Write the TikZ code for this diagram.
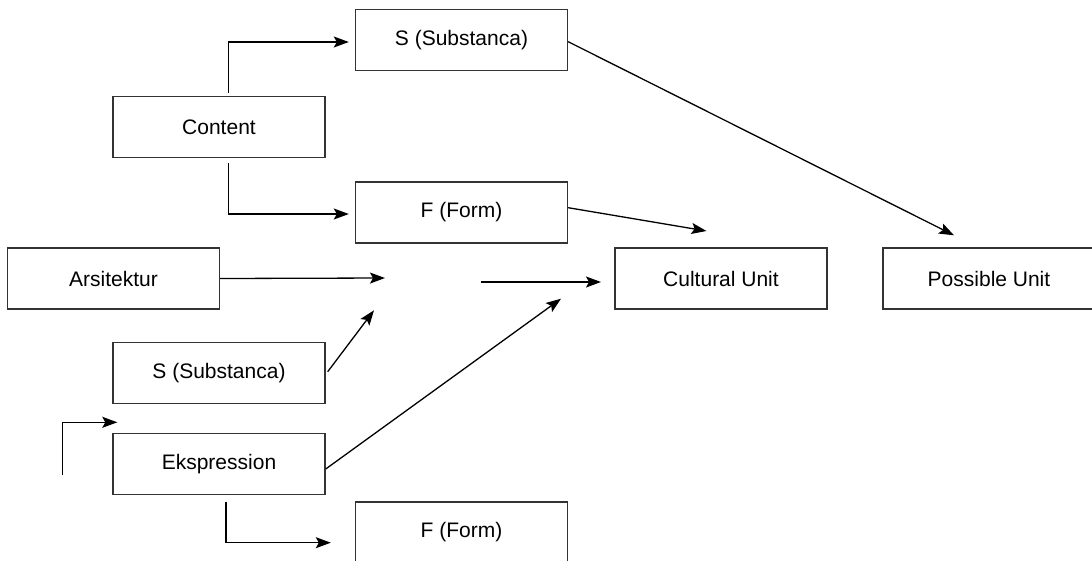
\documentclass[tikz,border=0pt]{standalone}
\usepackage{fontspec}
\setmainfont{Liberation Sans}
\usetikzlibrary{arrows.meta}
\tikzset{
  unitbox/.style={draw=black!80, line width=1.4pt, minimum width=212pt, minimum height=61pt,
    inner sep=0pt, font=\fontsize{21pt}{25pt}\selectfont, text=black},
  arr/.style={draw=black, line width=1.3pt, -{Stealth[length=15pt,width=11pt,inset=3pt]}},
  plain/.style={draw=black, line width=1.3pt}
}
\begin{document}
\begin{tikzpicture}[x=1pt,y=-1pt]
\useasboundingbox (0,0) rectangle (1092,560);

% boxes
\node[unitbox] (ssubA) at (461.5,40) {S (Substanca)};
\node[unitbox] (content) at (219,127) {Content};
\node[unitbox] (formA) at (461.5,212.5) {F (Form)};
\node[unitbox] (arsi) at (113.5,278.5) {Arsitektur};
\node[unitbox] (cult) at (721,278.5) {Cultural Unit};
\node[unitbox] (poss) at (989,278.5) {Possible Unit};
\node[unitbox] (ssubB) at (219,373) {S (Substanca)};
\node[unitbox] (eks) at (219,464) {Ekspression};
\node[unitbox] (formB) at (461.5,532.5) {F (Form)};

% loose connector ends
\coordinate (midL) at (385,278);
\coordinate (midR) at (481,282);
\coordinate (freeStart) at (62.7,475);
\coordinate (freeEnd) at (117.3,422.3);

% content branches
\draw[arr] ([xshift=9.6pt,yshift=3pt]content.north) |- ([xshift=-6pt,yshift=-2pt]ssubA.west);
\draw[arr] ([xshift=9.6pt,yshift=-5pt]content.south) |- ([xshift=-6pt,yshift=-1.5pt]formA.west);

% diagonal links to the units
\draw[arr] ([yshift=-1.7pt]ssubA.east) -- ([xshift=-35pt,yshift=12pt]poss.north);
\draw[arr] ([yshift=4.8pt]formA.east) -- ([xshift=-14.5pt,yshift=16.3pt]cult.north);

% middle row
\draw[arr] (arsi.east) -- (midL);
\draw[arr] (midR) -- ([xshift=-13.3pt,yshift=-3.5pt]cult.west);

% expression side
\draw[arr] ([xshift=2pt,yshift=1.3pt]ssubB.east) -- ([xshift=155pt,yshift=31.5pt]ssubB.north);
\draw[arr] ([yshift=-5pt]eks.east) -- ([xshift=-160pt,yshift=11pt]cult.south);
\draw[arr] ([xshift=7pt,yshift=-6.3pt]eks.south) |- ([xshift=-24pt,yshift=-10.2pt]formB.west);
\draw[arr] (freeStart) |- (freeEnd);
\end{tikzpicture}
\end{document}
